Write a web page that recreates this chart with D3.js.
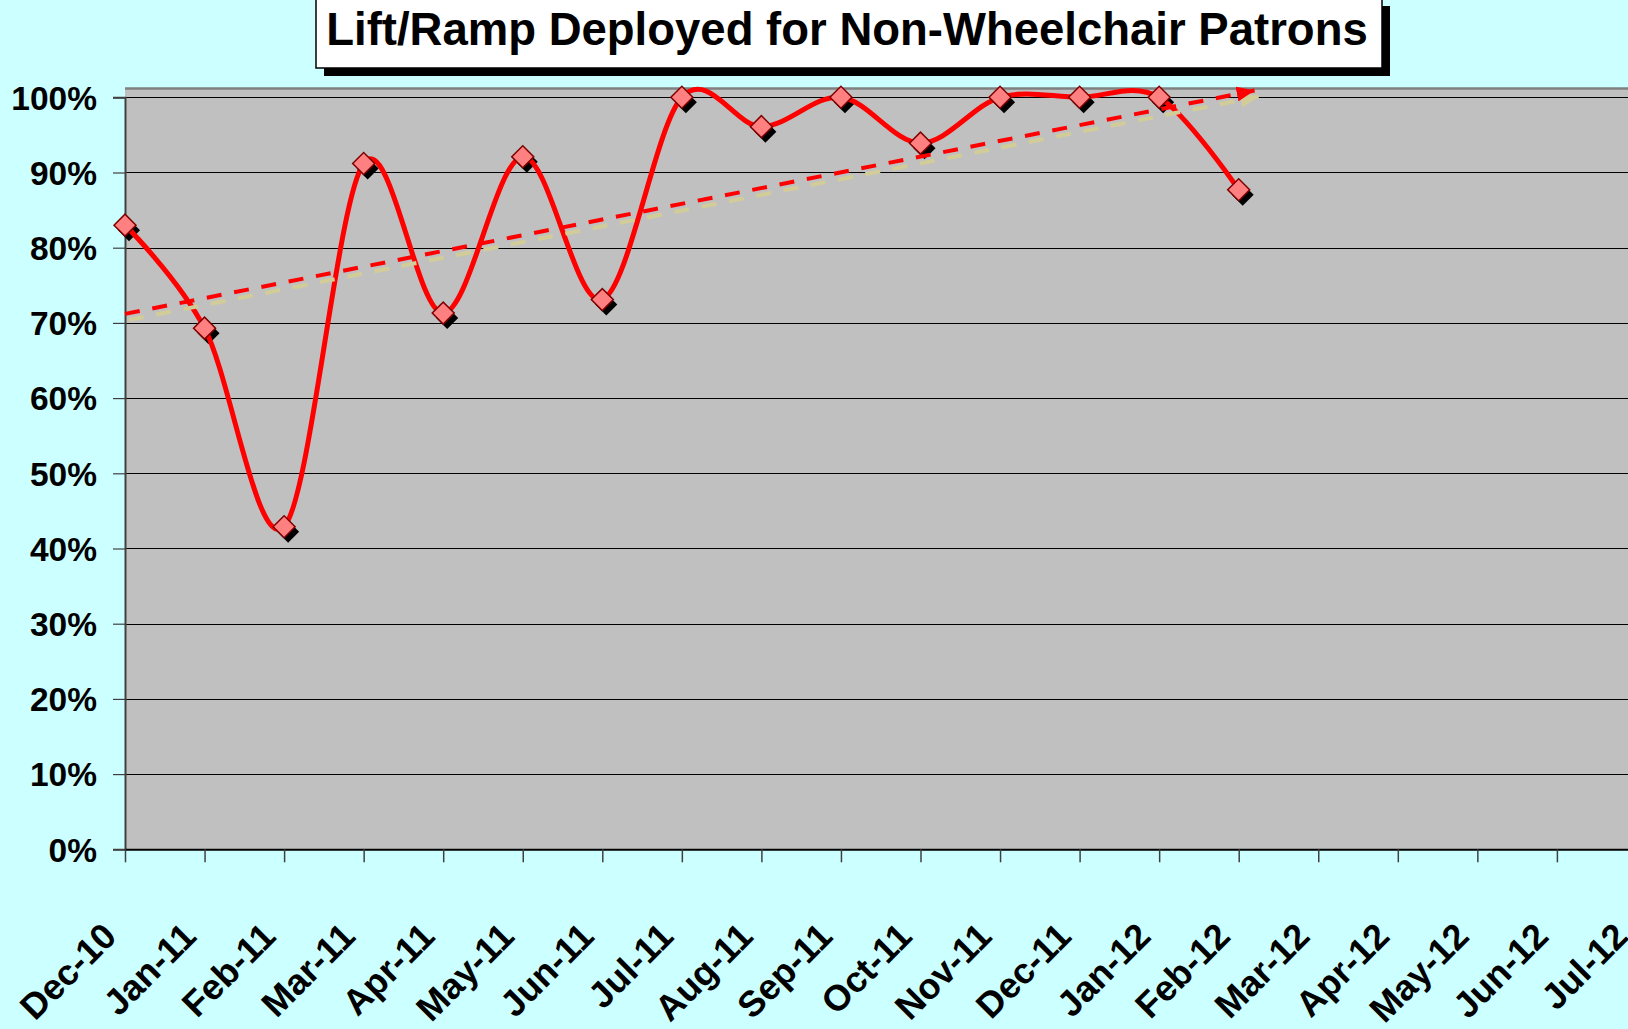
<!DOCTYPE html>
<html>
<head>
<meta charset="utf-8">
<script src="https://cdn.jsdelivr.net/npm/d3@7"></script>
<style>
  html, body { margin: 0; padding: 0; background: #ccffff; overflow: hidden; }
  svg { display: block; }
  text { font-family: "Liberation Sans", Arial, sans-serif; font-weight: bold; fill: #000; }
</style>
</head>
<body>
<svg id="chart" width="1628" height="1029"></svg>
<script>
// Month categories on the horizontal axis
const monthLabels = ["Dec-10", "Jan-11", "Feb-11", "Mar-11", "Apr-11", "May-11", "Jun-11",
  "Jul-11", "Aug-11", "Sep-11", "Oct-11", "Nov-11", "Dec-11", "Jan-12", "Feb-12",
  "Mar-12", "Apr-12", "May-12", "Jun-12", "Jul-12"];

// Share of lift/ramp deployments for non-wheelchair patrons (%), Dec-10 .. Feb-12
const deployedPct = [83.0, 69.3, 42.9, 91.2, 71.3, 92.1, 73.1, 100, 96.1, 100, 93.9, 100, 100, 100, 87.7];

// Percent ticks on the vertical axis
const pctTicks = [0, 10, 20, 30, 40, 50, 60, 70, 80, 90, 100];

// Trend arrow: month positions and percent values at its two ends
const trendMonths = [0, 14.2];
const trendPct = [71.2, 100.9];

const titleText = "Lift/Ramp Deployed for Non-Wheelchair Patrons";

const W = 1628, H = 1029;
const plotLeft = 125, plotTop = 88, y0 = 849.3, y100 = 97.3, step = 79.55;

const svg = d3.select("#chart");

const x = d3.scaleLinear().domain([0, monthLabels.length - 1])
  .range([plotLeft, plotLeft + step * (monthLabels.length - 1)]);
const y = d3.scaleLinear().domain([0, 100]).range([y0, y100]);

// Plot area
svg.append("rect")
  .attr("x", plotLeft).attr("y", plotTop)
  .attr("width", W - plotLeft + 5).attr("height", y0 - plotTop)
  .attr("fill", "#c0c0c0");
svg.append("line")
  .attr("x1", plotLeft).attr("x2", W)
  .attr("y1", plotTop + 0.5).attr("y2", plotTop + 0.5)
  .attr("stroke", "#808080").attr("stroke-width", 2.5);

// Horizontal gridlines
svg.append("g").selectAll("line").data(pctTicks.filter(d => d > 0)).join("line")
  .attr("x1", plotLeft).attr("x2", W)
  .attr("y1", d => Math.round(y(d)) + 0.5).attr("y2", d => Math.round(y(d)) + 0.5)
  .attr("stroke", "#000").attr("stroke-width", 1);

// Y axis
const yAxis = svg.append("g")
  .attr("transform", `translate(${plotLeft},0)`)
  .call(d3.axisLeft(y).tickValues(pctTicks).tickFormat(d => d + "%").tickSize(12).tickPadding(16));
yAxis.select(".domain").attr("stroke", "#404040").attr("stroke-width", 2);
yAxis.selectAll(".tick line").attr("stroke", "#404040").attr("stroke-width", 1.2);
yAxis.selectAll(".tick text")
  .attr("font-size", "33.5px").attr("font-family", "Liberation Sans, Arial, sans-serif")
  .attr("font-weight", "bold").attr("fill", "#000").attr("dy", "0.35em");

// X axis
const xAxis = svg.append("g")
  .attr("transform", `translate(0,${y0})`)
  .call(d3.axisBottom(x).tickValues(d3.range(monthLabels.length))
    .tickFormat(i => monthLabels[i]).tickSize(13).tickSizeOuter(0));
xAxis.select(".domain").attr("stroke", "#000").attr("stroke-width", 2);
xAxis.selectAll(".tick line").attr("stroke", "#404040").attr("stroke-width", 1.5);
xAxis.selectAll(".tick text")
  .attr("font-size", "36px").attr("font-family", "Liberation Sans, Arial, sans-serif")
  .attr("font-weight", "bold").attr("fill", "#000")
  .attr("text-anchor", "end")
  .attr("y", 0).attr("dy", 0)
  .attr("transform", "translate(-7,89) rotate(-45)");

// Marker shadows
const markerSize = 242;
const square = d3.symbol().type(d3.symbolSquare).size(markerSize);
svg.append("g").selectAll("path").data(deployedPct).join("path")
  .attr("d", square)
  .attr("transform", (d, i) => `translate(${x(i) + 4},${y(d) + 5}) rotate(45)`)
  .attr("fill", "#000");

// Smoothed series line
const line = d3.line()
  .x((d, i) => x(i))
  .y(d => y(d))
  .curve(d3.curveCardinal.tension(0));
svg.append("path")
  .datum(deployedPct)
  .attr("d", line)
  .attr("fill", "none")
  .attr("stroke", "#ff0000")
  .attr("stroke-width", 5)
  .attr("stroke-linejoin", "round");

// Diamond markers
svg.append("g").selectAll("path").data(deployedPct).join("path")
  .attr("d", square)
  .attr("transform", (d, i) => `translate(${x(i)},${y(d)}) rotate(45)`)
  .attr("fill", "#ff8080")
  .attr("stroke", "#800000")
  .attr("stroke-width", 1.5);

// Trend arrow with its shadow
const defs = svg.append("defs");
function arrowHead(id, color) {
  defs.append("marker")
    .attr("id", id)
    .attr("markerUnits", "userSpaceOnUse")
    .attr("markerWidth", 18).attr("markerHeight", 15)
    .attr("refX", 18).attr("refY", 7.5)
    .attr("orient", "auto")
    .append("path")
    .attr("d", "M0,0 L18,7.5 L0,15 Z")
    .attr("fill", color);
}
arrowHead("trendHeadShadow", "#d2cd98");
arrowHead("trendHead", "#ff0000");

const trendPts = trendMonths.map((m, i) => [x(m), y(trendPct[i])]);
svg.append("line")
  .attr("x1", trendPts[0][0] + 4).attr("y1", trendPts[0][1] + 6)
  .attr("x2", trendPts[1][0] + 4).attr("y2", trendPts[1][1] + 6)
  .attr("stroke", "#d2cd98").attr("stroke-width", 4)
  .attr("stroke-dasharray", "15,12.8")
  .attr("marker-end", "url(#trendHeadShadow)");
svg.append("line")
  .attr("x1", trendPts[0][0]).attr("y1", trendPts[0][1])
  .attr("x2", trendPts[1][0]).attr("y2", trendPts[1][1])
  .attr("stroke", "#ff0000").attr("stroke-width", 4)
  .attr("stroke-dasharray", "15,12.8")
  .attr("marker-end", "url(#trendHead)");

// Title box with drop shadow
const boxX = 316, boxY = -2, boxW = 1066, boxH = 70;
svg.append("rect")
  .attr("x", boxX + 8).attr("y", boxY + 8)
  .attr("width", boxW).attr("height", boxH)
  .attr("fill", "#000");
svg.append("rect")
  .attr("x", boxX).attr("y", boxY)
  .attr("width", boxW).attr("height", boxH)
  .attr("fill", "#fff").attr("stroke", "#000").attr("stroke-width", 1.5);
svg.append("text")
  .attr("x", boxX + boxW / 2 - 2).attr("y", 45)
  .attr("text-anchor", "middle")
  .attr("font-size", "45.5px")
  .text(titleText);
</script>
</body>
</html>
